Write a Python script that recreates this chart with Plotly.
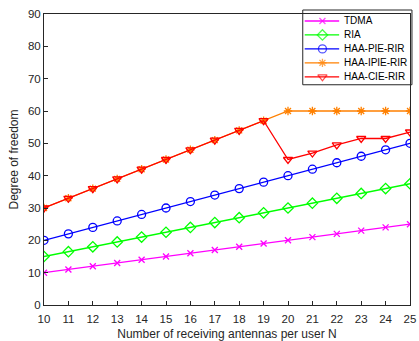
import plotly.graph_objects as go

# Number of receiving antennas per user
N = list(range(10, 26))

# Degrees of freedom achieved by each scheme
tdma = [10, 11, 12, 13, 14, 15, 16, 17, 18, 19, 20, 21, 22, 23, 24, 25]
ria = [15, 16.5, 18, 19.5, 21, 22.5, 24, 25.5, 27, 28.5, 30, 31.5, 33, 34.5, 36, 37.5]
haa_pie = [20, 22, 24, 26, 28, 30, 32, 34, 36, 38, 40, 42, 44, 46, 48, 50]
haa_ipie = [30, 33, 36, 39, 42, 45, 48, 51, 54, 57, 60, 60, 60, 60, 60, 60]
haa_cie = [30, 33, 36, 39, 42, 45, 48, 51, 54, 57, 45, 47, 49.5, 51.5, 51.5, 53.5]

names = ["TDMA", "RIA", "HAA-PIE-RIR", "HAA-IPIE-RIR", "HAA-CIE-RIR"]
values = [tdma, ria, haa_pie, haa_ipie, haa_cie]
colors = ["#ff00ff", "#00ff00", "#0000ff", "#ff8000", "#ff0000"]
symbols = ["x-thin-open", "diamond-open", "circle-open", "asterisk-open", "triangle-down-open"]
sizes = [6, 8, 8, 7, 8]

W, H = 419, 341
L, R, T, B = 44, 3, 14, 35
PW, PH = W - L - R, H - T - B
INK = "#262626"


def px_x(p):
    return (p - L) / PW


def px_y(p):
    return (H - B - p) / PH


fig = go.Figure()
for name, vals, color, symbol, size in zip(names, values, colors, symbols, sizes):
    fig.add_trace(go.Scatter(
        x=N, y=vals, name=name, mode="lines+markers", showlegend=False,
        line=dict(color=color, width=1.3),
        marker=dict(symbol=symbol, size=size, color=color,
                    line=dict(color=color, width=1.3)),
    ))

# Boxed legend in the upper-right corner
box_x0, box_x1, box_y0, box_y1 = 307, 418, 10, 85
row_y = [21, 35, 49, 63, 77]
line_x0, line_x1, mark_x, text_x = 309, 344, 327, 347

shapes = [dict(type="rect", xref="paper", yref="paper", layer="below",
               x0=px_x(box_x0), x1=px_x(box_x1), y0=px_y(box_y1), y1=px_y(box_y0),
               fillcolor="white", line=dict(color=INK, width=1))]
annotations = []
for name, color, ry in zip(names, colors, row_y):
    shapes.append(dict(type="line", xref="paper", yref="paper", layer="below",
                       x0=px_x(line_x0), x1=px_x(line_x1), y0=px_y(ry), y1=px_y(ry),
                       line=dict(color=color, width=1.3)))
    annotations.append(dict(x=px_x(text_x), y=px_y(ry), xref="paper", yref="paper",
                            text=name, showarrow=False, xanchor="left", yanchor="middle",
                            font=dict(size=10, color="#000000")))

fig.add_trace(go.Scatter(
    x=[px_x(mark_x)] * len(names), y=[px_y(r) for r in row_y],
    xaxis="x2", yaxis="y2", mode="markers", showlegend=False, hoverinfo="skip",
    cliponaxis=False,
    marker=dict(symbol=symbols, size=sizes, color=colors,
                line=dict(color=colors, width=1.3)),
))

axis_common = dict(
    showgrid=False, zeroline=False, showline=True, mirror=True,
    linecolor=INK, linewidth=1, ticks="inside", ticklen=4,
    tickcolor=INK, tickfont=dict(size=11.5, color=INK),
)

fig.update_layout(
    width=W, height=H,
    margin=dict(l=L, r=R, t=T, b=B),
    paper_bgcolor="white", plot_bgcolor="white",
    font=dict(family="Liberation Sans, Arial, sans-serif", size=12, color=INK),
    xaxis=dict(range=[10, 25], dtick=1, ticklabeloverflow="allow",
               ticklabelstandoff=3,
               title=dict(text="Number of receiving antennas per user N",
                          font=dict(size=12), standoff=5),
               **axis_common),
    yaxis=dict(range=[0, 90], dtick=10,
               title=dict(text="Degree of freedom", font=dict(size=12), standoff=6),
               **axis_common),
    xaxis2=dict(range=[0, 1], overlaying="x", visible=False, fixedrange=True),
    yaxis2=dict(range=[0, 1], overlaying="y", visible=False, fixedrange=True),
    shapes=shapes,
    annotations=annotations,
    showlegend=False,
)

fig.write_html("out.html")
